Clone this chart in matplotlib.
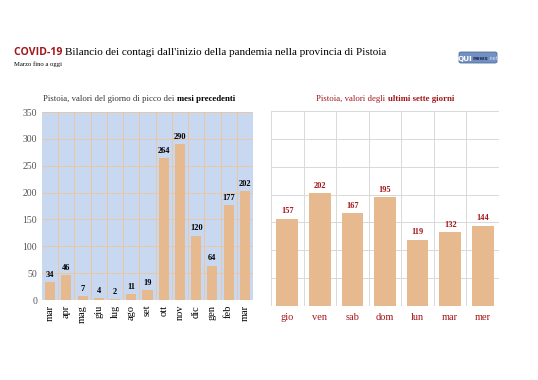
import matplotlib
matplotlib.use("Agg")
import matplotlib.pyplot as plt
from matplotlib.patches import FancyBboxPatch

mesi = ["mar", "apr", "mag", "giu", "lug", "ago", "set", "ott", "nov", "dic", "gen", "feb", "mar"]
picco = [34, 46, 7, 4, 2, 11, 19, 264, 290, 120, 64, 177, 202]

giorni = ["gio", "ven", "sab", "dom", "lun", "mar", "mer"]
ultimi = [157, 202, 167, 195, 119, 132, 144]

BAR = "#E6B98E"
RED = "#A3161A"
SERIF = ["Liberation Serif", "DejaVu Serif"]

fig = plt.figure(figsize=(5.38, 3.8), dpi=100)
fig.patch.set_facecolor("white")


def text_run(pieces, x, y, ha="left"):
    # pieces: list of (text, kwargs); placed one after another in figure pixels
    r = fig.canvas.get_renderer()
    objs = []
    for s, kw in pieces:
        objs.append(fig.text(0, 0, s, va="baseline", **kw))
    widths = [o.get_window_extent(r).width for o in objs]
    total = sum(widths)
    cx = x - total / 2 if ha == "center" else x
    W, H = fig.bbox.width, fig.bbox.height
    for o, w in zip(objs, widths):
        o.set_position((cx / W, y / H))
        cx += w


# title
text_run([("COVID-19 ", dict(fontsize=7.6, color=RED, fontweight="bold", family=["Open Sans", "DejaVu Sans"])),
          ("Bilancio dei contagi dall'inizio della pandemia nella provincia di Pistoia",
           dict(fontsize=8.0, color="black", family=SERIF))], 14, 380 - 55)
fig.text(14 / 538, 1 - 66 / 380, "Marzo fino a oggi", fontsize=4.8, family=SERIF, va="baseline")

# logo
logo = FancyBboxPatch((459 / 538, 1 - 63 / 380), 38 / 538, 11 / 380, boxstyle="round,pad=0,rounding_size=0.004",
                      transform=fig.transFigure, facecolor="#7391C0", edgecolor="#4F6F9F", lw=0.6)
fig.patches.append(logo)
text_run([("QUI", dict(fontsize=5.3, color="white", fontweight="bold")),
          ("news", dict(fontsize=3.9, color="#1F2F5F", fontweight="bold")),
          (".net", dict(fontsize=3.5, color="#D8E4FF"))], 478, 380 - 60.5, ha="center")

# left chart
ax1 = fig.add_axes([42 / 538, 80 / 380, 211 / 538, 188 / 380])
ax1.set_facecolor("#C8D8F1")
x1 = range(len(mesi))
ax1.bar(x1, picco, width=0.62, color=BAR, zorder=3)
ax1.set_xlim(-0.5, len(mesi) - 0.5)
ax1.set_ylim(0, 350)
ax1.set_yticks(range(0, 351, 50))
ax1.set_xticks(list(x1))
ax1.set_xticklabels(mesi, rotation=90, family=SERIF, fontsize=7.5)
ax1.set_xticks([i + 0.5 for i in range(len(mesi) - 1)], minor=True)
ax1.grid(axis="y", which="major", color="#E9C7A2", lw=0.7, zorder=1)
ax1.grid(axis="x", which="minor", color="#E9C7A2", lw=0.7, zorder=1)
ax1.tick_params(which="both", length=0)
ax1.tick_params(axis="y", labelsize=7, labelcolor="#555555")
for lab in ax1.get_yticklabels():
    lab.set_family(SERIF)
for s in ax1.spines.values():
    s.set_visible(False)
for xi, v in zip(x1, picco):
    ax1.text(xi, v + 6, str(v), ha="center", va="bottom", fontsize=6, fontweight="bold", family=SERIF)

# right chart
ax2 = fig.add_axes([271 / 538, 74 / 380, 228 / 538, 195 / 380])
x2 = range(len(giorni))
ax2.bar(x2, ultimi, width=0.67, color=BAR, zorder=3)
ax2.set_xlim(-0.5, len(giorni) - 0.5)
ax2.set_ylim(0, 350)
ax2.set_yticks(range(0, 351, 50))
ax2.set_yticklabels([])
ax2.set_xticks(list(x2))
ax2.set_xticklabels(giorni, family=SERIF, fontsize=7.5, color=RED)
ax2.set_xticks([i + 0.5 for i in range(len(giorni))] + [-0.5], minor=True)
ax2.grid(axis="y", which="major", color="#D9D9D9", lw=0.7, zorder=1)
ax2.grid(axis="x", which="minor", color="#D9D9D9", lw=0.7, zorder=1)
ax2.tick_params(which="both", length=0)
ax2.tick_params(axis="x", pad=5)
for s in ax2.spines.values():
    s.set_visible(False)
for xi, v in zip(x2, ultimi):
    ax2.text(xi, v + 6, str(v), ha="center", va="bottom", fontsize=6, fontweight="bold", family=SERIF, color=RED)

# subtitles
text_run([("Pistoia, valori del giorno di picco dei ", dict(fontsize=6.3, family=SERIF, color="#333333")),
          ("mesi precedenti", dict(fontsize=6.3, family=SERIF, color="black", fontweight="bold"))],
         139, 380 - 101, ha="center")
text_run([("Pistoia, valori degli ", dict(fontsize=6.3, family=SERIF, color=RED)),
          ("ultimi sette giorni", dict(fontsize=6.3, family=SERIF, color=RED, fontweight="bold"))],
         385, 380 - 101, ha="center")

fig.savefig("out.png", dpi=100)
